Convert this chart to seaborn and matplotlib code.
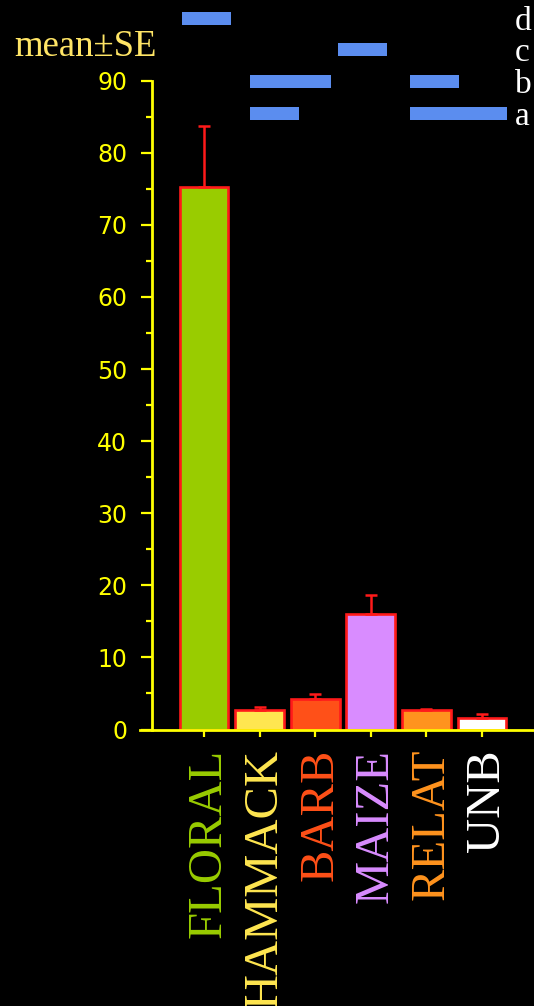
import matplotlib
matplotlib.use("Agg")
import matplotlib.pyplot as plt
from matplotlib.ticker import FixedLocator
from matplotlib.transforms import ScaledTranslation
import seaborn as sns
import pandas as pd

# ---- data -------------------------------------------------------------
categories = ["FLORAL", "HAMMACK", "BARB", "MAIZE", "RELAT", "UNB"]
means = [75.2, 2.7, 4.2, 16.0, 2.7, 1.6]
se = [8.5, 0.4, 0.7, 2.6, 0.1, 0.5]
bar_colors = ["#99CC00", "#FFE650", "#FF5018", "#D98CFF", "#FF931E", "#FFFFFF"]

# significance groups: letter, row level, spans in category units
group_letters = ["d", "c", "b", "a"]
group_levels = [98.7, 94.3, 89.9, 85.4]
group_spans = [
    [(-0.40, 0.49)],
    [(2.41, 3.29)],
    [(0.83, 2.28), (3.70, 4.59)],
    [(0.83, 1.71), (3.70, 5.45)],
]
y_ticks = list(range(0, 91, 10))
y_minor_ticks = list(range(5, 90, 10))

# ---- style ------------------------------------------------------------
YELLOW = "#FFFF00"
RED = "#FF1A1A"
BLUE = "#5B8DEF"
SERIF = ["Liberation Serif", "DejaVu Serif"]

sns.set_style("dark")
plt.rcParams["font.family"] = ["DejaVu Sans"]

W, H = 534, 1006
fig = plt.figure(figsize=(W / 100, H / 100), dpi=100, facecolor="black")
ax_left, ax_bottom_px = 140, 729.5
ax = fig.add_axes([ax_left / W, (H - ax_bottom_px) / H,
                   (W - ax_left) / W, ax_bottom_px / H])
ax.set_facecolor("black")

df = pd.DataFrame({"cat": categories, "val": means})
sns.barplot(data=df, x="cat", y="val", hue="cat", palette=bar_colors,
            legend=False, errorbar=None, width=0.88, ax=ax,
            edgecolor=RED, linewidth=1.9, saturation=1)

# upper-only standard-error whiskers
ax.errorbar(range(len(categories)), means, yerr=[[0] * len(se), se],
            fmt="none", ecolor=RED, elinewidth=1.8, capsize=4.5,
            capthick=1.8, zorder=1)

ax.set_xlim(-1.151, 5.935)
ax.set_ylim(0, 101.2)

# axes styling
for side in ("top", "right"):
    ax.spines[side].set_visible(False)
ax.spines["left"].set_position(("axes", 11.5 / (W - ax_left)))
ax.spines["left"].set_bounds(0, 90)
for side in ("left", "bottom"):
    ax.spines[side].set_visible(True)
    ax.spines[side].set_color(YELLOW)
    ax.spines[side].set_linewidth(2.0)

ax.set_yticks(y_ticks)
ax.yaxis.set_minor_locator(FixedLocator(y_minor_ticks))
ax.tick_params(axis="y", which="both", left=True)
ax.tick_params(axis="x", which="major", bottom=True)
ax.tick_params(axis="y", which="major", direction="out", length=8,
               width=1.6, color=YELLOW, labelcolor=YELLOW, labelsize=17,
               pad=9.5)
ax.tick_params(axis="y", which="minor", direction="out", length=4.5,
               width=1.6, color=YELLOW)
ax.tick_params(axis="x", which="major", direction="out", length=5,
               width=1.6, color=YELLOW, pad=9)
ax.set_xlabel("")
ax.set_ylabel("")
ax.grid(False)

ax.set_xticks(range(len(categories)))
ax.set_xticklabels(categories, rotation=90, fontsize=35, family=SERIF)
shift = ScaledTranslation(5 / 100, 0, fig.dpi_scale_trans)
for lbl, c in zip(ax.get_xticklabels(), bar_colors):
    lbl.set_color(c)
    lbl.set_transform(lbl.get_transform() + shift)

# significance group bars and their letters
for letter, level, spans in zip(group_letters, group_levels, group_spans):
    starts = [s for s, e in spans]
    widths = [e - s for s, e in spans]
    ax.barh([level] * len(spans), widths, left=starts, height=1.8,
            color=BLUE, edgecolor="none", linewidth=0, clip_on=False)
    ax.text(5.585, level - 1.6, letter, ha="left", va="baseline",
            fontsize=24, color="white", family=SERIF, clip_on=False)

fig.text(14 / W, 1 - 56 / H, "mean\u00b1SE", ha="left", va="baseline",
         fontsize=26.5, color="#FFE566", family=SERIF)

fig.savefig("out.png", dpi=100, facecolor="black")
